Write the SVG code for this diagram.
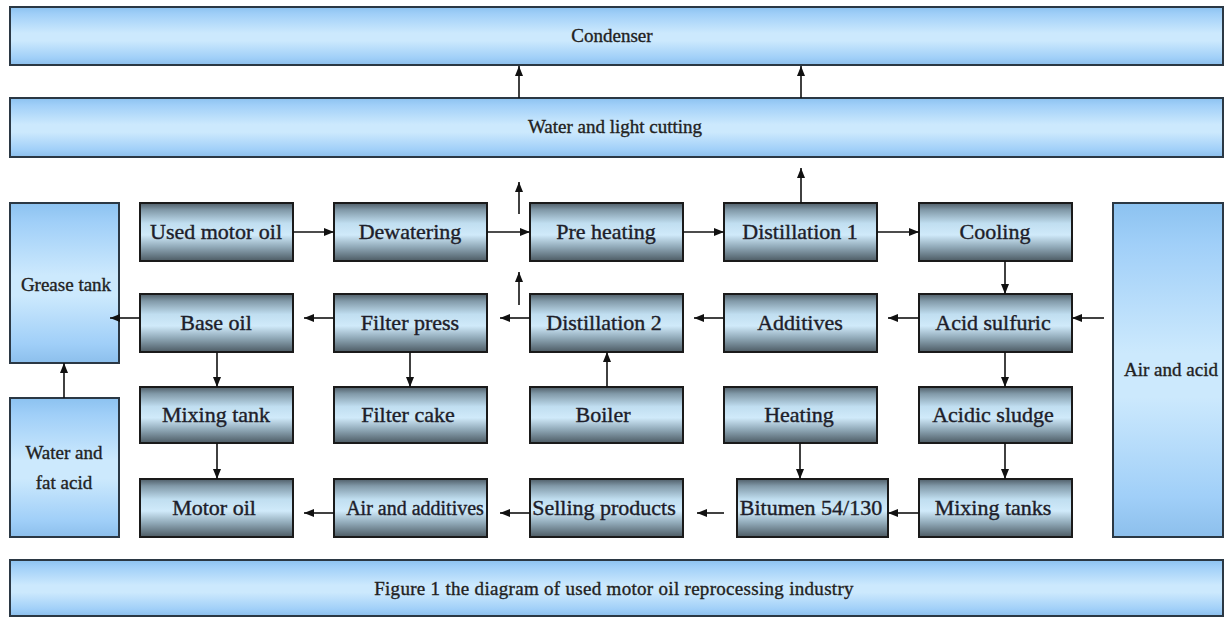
<svg xmlns="http://www.w3.org/2000/svg" width="1225" height="617" viewBox="0 0 1225 617">
<defs>
<linearGradient id="gNode" x1="0" y1="0" x2="0" y2="1">
<stop offset="0" stop-color="#4f5e68"/>
<stop offset="0.12" stop-color="#8199a8"/>
<stop offset="0.35" stop-color="#c0def0"/>
<stop offset="0.55" stop-color="#d0eafa"/>
<stop offset="0.75" stop-color="#93acbb"/>
<stop offset="0.92" stop-color="#637580"/>
<stop offset="1" stop-color="#4d5b63"/>
</linearGradient>
<linearGradient id="gBlue" x1="0" y1="0" x2="0" y2="1">
<stop offset="0" stop-color="#8cc2f0"/>
<stop offset="0.12" stop-color="#a0cff8"/>
<stop offset="0.45" stop-color="#cce9fd"/>
<stop offset="0.58" stop-color="#cce9fd"/>
<stop offset="0.88" stop-color="#a0cff8"/>
<stop offset="1" stop-color="#8cbfec"/>
</linearGradient>
<marker id="arr" markerUnits="userSpaceOnUse" markerWidth="10" markerHeight="10" viewBox="0 0 10 10" refX="10" refY="5" orient="auto">
<path d="M0,1 L10,5 L0,9 Z" fill="#111"/>
</marker>
</defs>
<style>
.node{fill:url(#gNode);stroke:#1a1a1a;stroke-width:2}
.bar{fill:url(#gBlue);stroke:#2b3844;stroke-width:2}
.t{font-family:"Liberation Serif","DejaVu Serif",serif;font-size:22px;fill:#1e1e2a;stroke:#1e1e2a;stroke-width:0.4;text-anchor:middle}
.s{font-family:"Liberation Serif","DejaVu Serif",serif;font-size:19px;fill:#222;stroke:#222;stroke-width:0.35;text-anchor:middle}
.c line{stroke:#111;stroke-width:1.6;marker-end:url(#arr)}
</style>
<rect width="1225" height="617" fill="#ffffff"/>

<g id="condenser"><rect class="bar" x="10" y="7" width="1213" height="58"/><text class="s" x="612" y="42">Condenser</text></g>
<g id="water-light-cutting"><rect class="bar" x="10" y="98" width="1213" height="59"/><text class="s" x="615" y="133">Water and light cutting</text></g>
<g id="caption"><rect class="bar" x="10" y="560" width="1213" height="56"/><text class="s" x="614" y="595" style="letter-spacing:0.3px">Figure 1 the diagram of used motor oil reprocessing industry</text></g>

<g id="grease-tank"><rect class="bar" x="10" y="203" width="109" height="160"/><text class="s" x="66" y="291">Grease tank</text></g>
<g id="water-fat-acid"><rect class="bar" x="10" y="398" width="109" height="139"/><text class="s" x="64" y="459">Water and</text><text class="s" x="64" y="489">fat acid</text></g>
<g id="air-acid"><rect class="bar" x="1113" y="203" width="110" height="334"/><text class="s" x="1171" y="376">Air and acid</text></g>

<g id="used-motor-oil"><rect class="node" x="140" y="203" width="153" height="58"/><text class="t" x="216" y="239">Used motor oil</text></g>
<g id="dewatering"><rect class="node" x="334" y="203" width="153" height="58"/><text class="t" x="410" y="239">Dewatering</text></g>
<g id="pre-heating"><rect class="node" x="530" y="203" width="153" height="58"/><text class="t" x="606" y="239">Pre heating</text></g>
<g id="distillation-1"><rect class="node" x="724" y="203" width="153" height="58"/><text class="t" x="800" y="239">Distillation 1</text></g>
<g id="cooling"><rect class="node" x="919" y="203" width="153" height="58"/><text class="t" x="995" y="239">Cooling</text></g>

<g id="base-oil"><rect class="node" x="140" y="294" width="153" height="58"/><text class="t" x="216" y="330">Base oil</text></g>
<g id="filter-press"><rect class="node" x="334" y="294" width="153" height="58"/><text class="t" x="410" y="330">Filter press</text></g>
<g id="distillation-2"><rect class="node" x="530" y="294" width="153" height="58"/><text class="t" x="604" y="330">Distillation 2</text></g>
<g id="additives"><rect class="node" x="724" y="294" width="153" height="58"/><text class="t" x="800" y="330">Additives</text></g>
<g id="acid-sulfuric"><rect class="node" x="919" y="294" width="153" height="58"/><text class="t" x="993" y="330">Acid sulfuric</text></g>

<g id="mixing-tank"><rect class="node" x="140" y="387" width="153" height="56"/><text class="t" x="216" y="422">Mixing tank</text></g>
<g id="filter-cake"><rect class="node" x="334" y="387" width="153" height="56"/><text class="t" x="408" y="422">Filter cake</text></g>
<g id="boiler"><rect class="node" x="530" y="387" width="153" height="56"/><text class="t" x="603" y="422">Boiler</text></g>
<g id="heating"><rect class="node" x="724" y="387" width="153" height="56"/><text class="t" x="799" y="422">Heating</text></g>
<g id="acidic-sludge"><rect class="node" x="919" y="387" width="153" height="56"/><text class="t" x="993" y="422">Acidic sludge</text></g>

<g id="motor-oil"><rect class="node" x="140" y="479" width="153" height="58"/><text class="t" x="214" y="515">Motor oil</text></g>
<g id="air-additives"><rect class="node" x="334" y="479" width="153" height="58"/><text class="t" x="415" y="515" style="font-size:20px">Air and additives</text></g>
<g id="selling-products"><rect class="node" x="530" y="479" width="153" height="58"/><text class="t" x="604" y="515">Selling products</text></g>
<g id="bitumen"><rect class="node" x="737" y="479" width="151" height="58"/><text class="t" x="811" y="515">Bitumen 54/130</text></g>
<g id="mixing-tanks"><rect class="node" x="919" y="479" width="153" height="58"/><text class="t" x="993" y="515">Mixing tanks</text></g>

<g id="connectors" class="c">
<line x1="519" y1="98" x2="519" y2="66"/>
<line x1="801" y1="98" x2="801" y2="66"/>
<line x1="519" y1="214" x2="519" y2="182"/>
<line x1="519" y1="305" x2="519" y2="272"/>
<line x1="801" y1="203" x2="801" y2="168"/>
<line x1="293" y1="232" x2="334" y2="232"/>
<line x1="487" y1="232" x2="530" y2="232"/>
<line x1="683" y1="232" x2="724" y2="232"/>
<line x1="877" y1="232" x2="919" y2="232"/>
<line x1="1005" y1="261" x2="1005" y2="294"/>
<line x1="1104" y1="318" x2="1072" y2="318"/>
<line x1="919" y1="318" x2="888" y2="318"/>
<line x1="724" y1="318" x2="694" y2="318"/>
<line x1="530" y1="318" x2="500" y2="318"/>
<line x1="334" y1="318" x2="304" y2="318"/>
<line x1="140" y1="318" x2="110" y2="318"/>
<line x1="64" y1="398" x2="64" y2="363"/>
<line x1="217" y1="352" x2="217" y2="387"/>
<line x1="217" y1="443" x2="217" y2="479"/>
<line x1="410" y1="352" x2="410" y2="387"/>
<line x1="607" y1="387" x2="607" y2="352"/>
<line x1="1005" y1="352" x2="1005" y2="387"/>
<line x1="1005" y1="443" x2="1005" y2="479"/>
<line x1="800" y1="443" x2="800" y2="479"/>
<line x1="919" y1="513" x2="888" y2="513"/>
<line x1="724" y1="513" x2="697" y2="513"/>
<line x1="530" y1="513" x2="500" y2="513"/>
<line x1="334" y1="513" x2="304" y2="513"/>
</g>
</svg>
